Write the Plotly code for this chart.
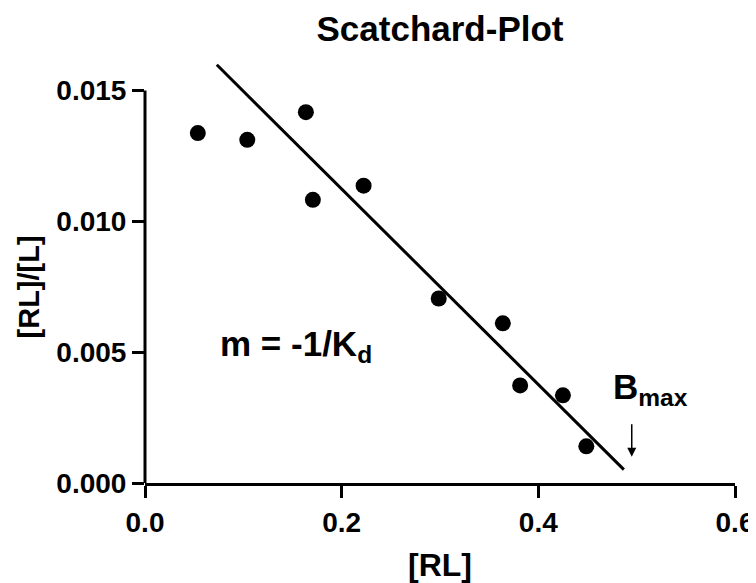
import plotly.graph_objects as go

# Data
rl = [0.0537, 0.104, 0.1636, 0.1707, 0.2223, 0.2987, 0.3639, 0.3815, 0.425, 0.4488]
rl_over_l = [0.01337, 0.01311, 0.01417, 0.01082, 0.01136, 0.00705, 0.0061, 0.00373, 0.00335, 0.0014]

fit_x = [0.073, 0.487]
fit_y = [0.01598, 0.00051]

x_ticks = [0.0, 0.2, 0.4, 0.6]
x_ticklabels = ["0.0", "0.2", "0.4", "0.6"]
y_ticks = [0.000, 0.005, 0.010, 0.015]
y_ticklabels = ["0.000", "0.005", "0.010", "0.015"]

FONT = "Liberation Sans, Arial, sans-serif"

fig = go.Figure()
fig.add_trace(go.Scatter(x=fit_x, y=fit_y, mode="lines",
                         line=dict(color="black", width=3), showlegend=False))
fig.add_trace(go.Scatter(x=rl, y=rl_over_l, mode="markers",
                         marker=dict(color="black", size=16), showlegend=False))

fig.add_annotation(x=0.154, y=0.00524, xref="x", yref="y",
                   text="m = -1/K<sub>d</sub>", showarrow=False,
                   font=dict(family=FONT, size=35, color="black", weight="bold"))
fig.add_annotation(x=0.514, y=0.0036, xref="x", yref="y",
                   text="B<sub>max</sub>", showarrow=False,
                   font=dict(family=FONT, size=35, color="black", weight="bold"))
fig.add_annotation(x=0.495, y=0.001, xref="x", yref="y",
                   ax=0.495, ay=0.0023, axref="x", ayref="y",
                   text="", showarrow=True, arrowhead=2, arrowsize=1.2,
                   arrowwidth=1.5, arrowcolor="black")

# y axis title, centred on the drawn axis span (0 .. 0.015)
fig.add_annotation(x=-0.197, y=(y_ticks[0] + y_ticks[-1]) / 2, xref="paper", yref="y",
                   text="[RL]/[L]", textangle=-90, showarrow=False,
                   xanchor="center", yanchor="middle",
                   font=dict(family=FONT, size=29, color="black", weight="bold"))

# y axis line only spans the tick range (0 .. 0.015)
fig.add_shape(type="line", xref="paper", yref="y", x0=0, x1=0,
              y0=y_ticks[0], y1=y_ticks[-1], line=dict(color="black", width=3))

axis_common = dict(showgrid=False, zeroline=False,
                   ticks="outside", ticklen=12, tickwidth=3, tickcolor="black",
                   tickfont=dict(family=FONT, size=28, color="black", weight="bold"))

fig.update_xaxes(range=[0, 0.6], tickvals=x_ticks, ticktext=x_ticklabels,
                 showline=True, linecolor="black", linewidth=3,
                 ticklabeloverflow="allow",
                 title=dict(text="[RL]", font=dict(family=FONT, size=32, color="black", weight="bold"),
                            standoff=22),
                 **axis_common)
fig.update_yaxes(range=[0, 0.0162], tickvals=y_ticks, ticktext=y_ticklabels,
                 showline=False,
                 **axis_common)

fig.update_layout(
    width=748, height=575,
    margin=dict(l=137, r=21, t=51, b=100, autoexpand=False),
    plot_bgcolor="white", paper_bgcolor="white",
    title=dict(text="Scatchard-Plot", x=0.5, xref="paper", y=0.9645, yanchor="middle",
               font=dict(family=FONT, size=35, color="black", weight="bold")),
)

fig.write_html("out.html")
